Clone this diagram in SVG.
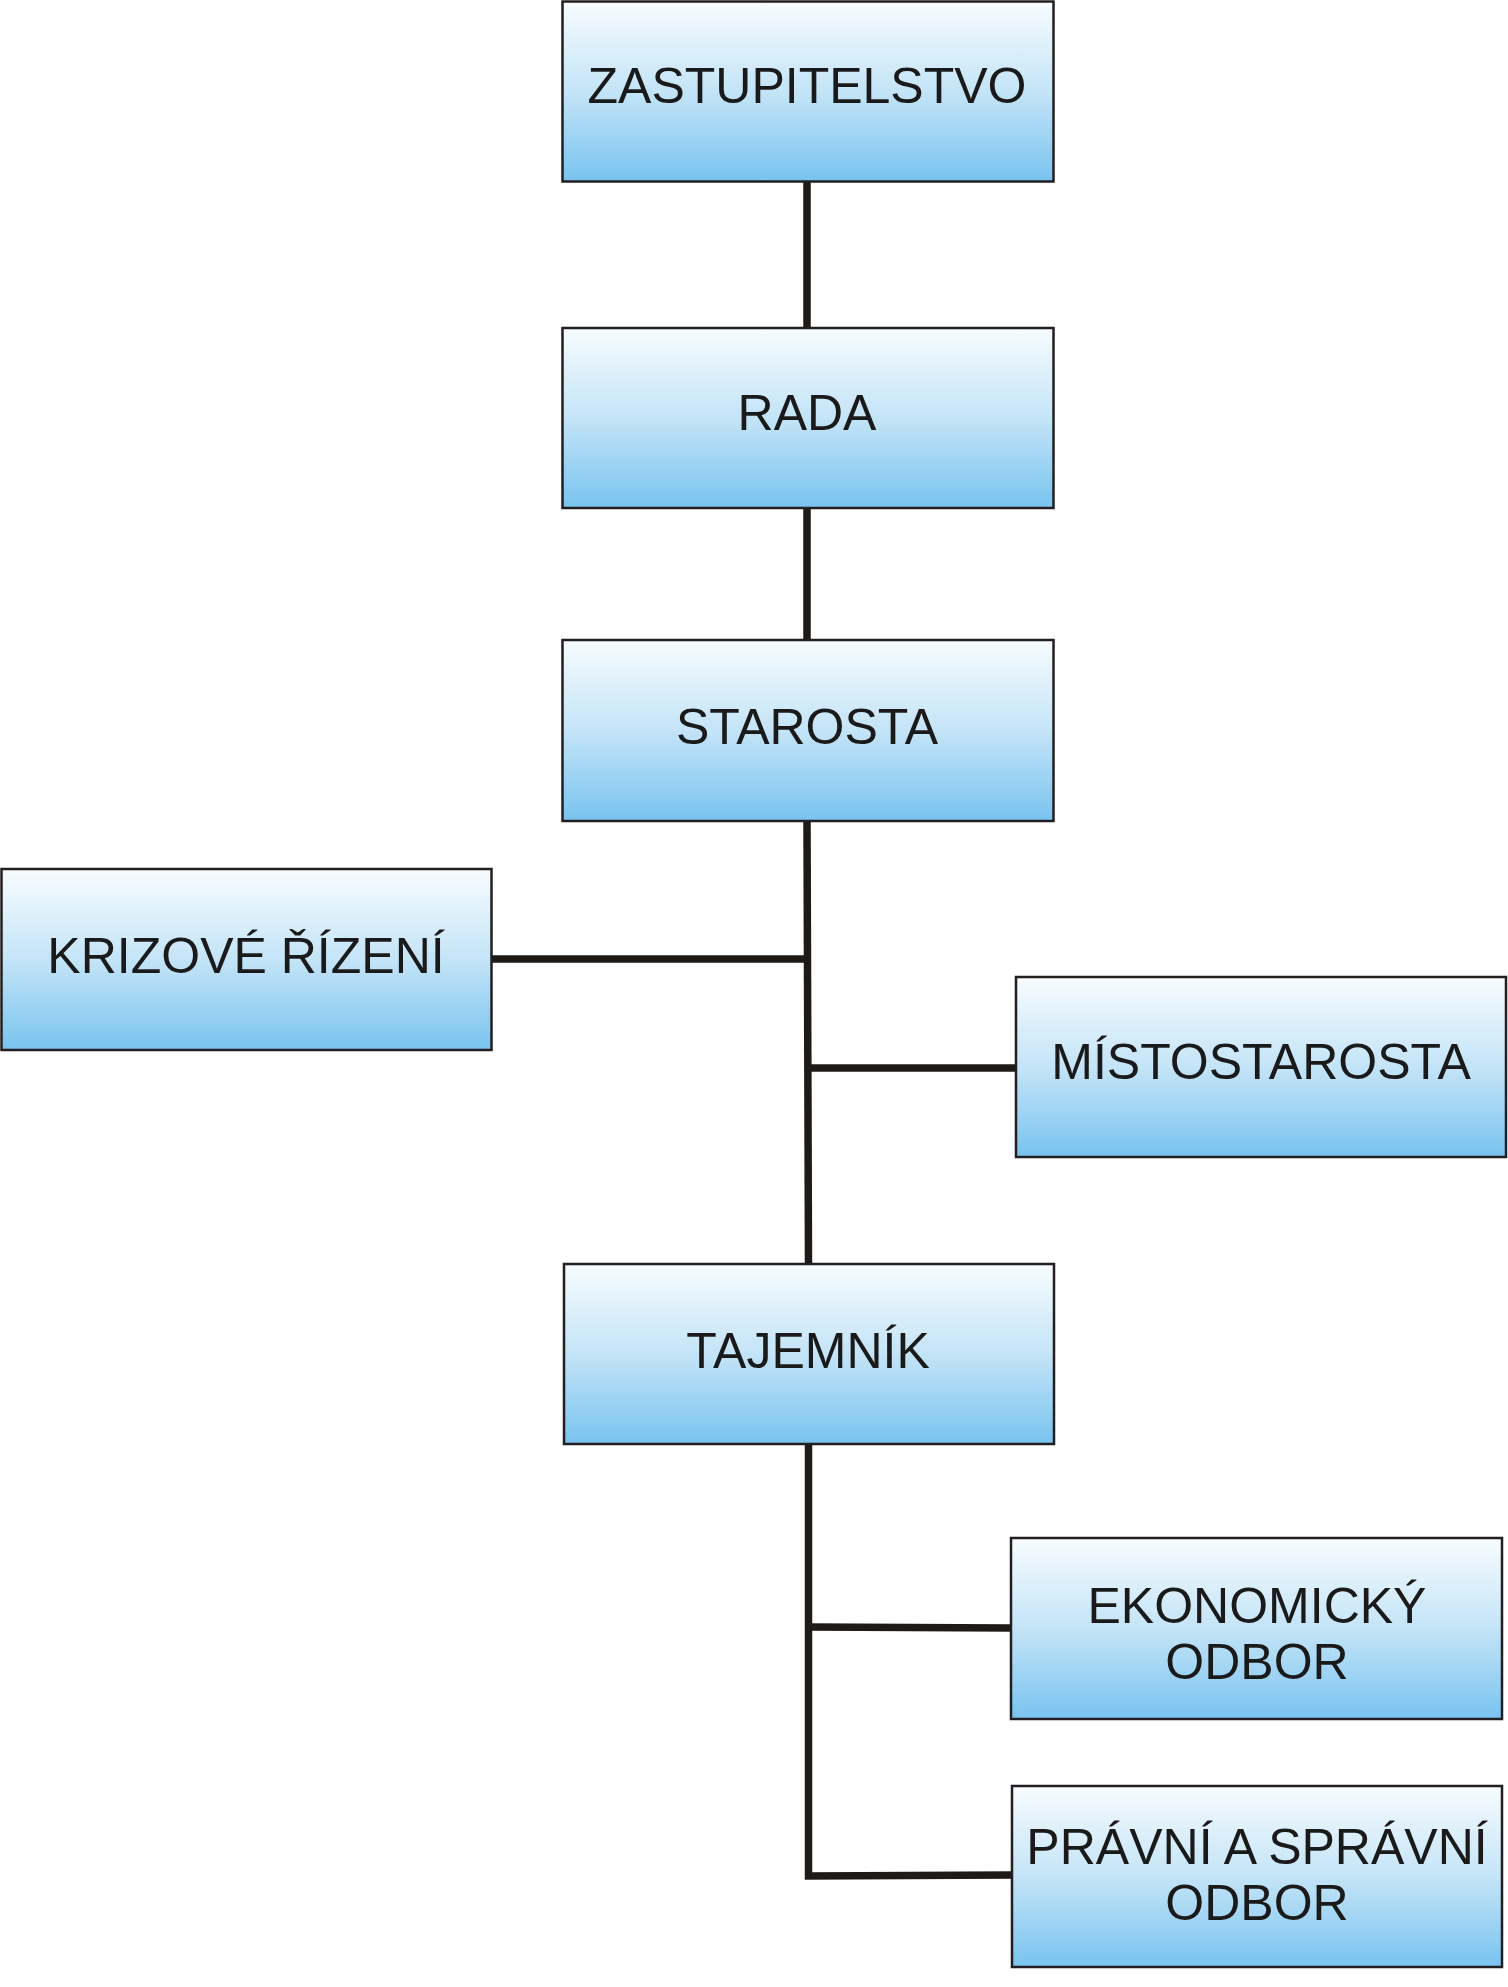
<svg xmlns="http://www.w3.org/2000/svg" width="1508" height="1987" viewBox="0 0 1508 1987">
<defs>
<linearGradient id="g" x1="0" y1="0" x2="0" y2="1">
<stop offset="0" stop-color="#f7fcfe"/>
<stop offset="0.5" stop-color="#c4e4f7"/>
<stop offset="1" stop-color="#78c3ef"/>
</linearGradient>
<style>
.box{fill:url(#g);stroke:#231f20;stroke-width:2.5}
.t{font-family:"Liberation Sans",Arial,sans-serif;font-size:50px;fill:#1a1a1a;text-anchor:middle}
.c{stroke:#1e1a17;stroke-width:7.5;fill:none;stroke-linecap:butt;stroke-linejoin:miter}
</style>
</defs>
<rect width="1508" height="1987" fill="#ffffff"/>
<g id="connectors">
<line class="c" x1="807" y1="181" x2="807" y2="328"/>
<line class="c" x1="807" y1="508" x2="807" y2="640"/>
<line class="c" x1="807" y1="821" x2="808.5" y2="1264"/>
<line class="c" x1="492" y1="959" x2="807" y2="959"/>
<line class="c" x1="808" y1="1068" x2="1016" y2="1068"/>
<polyline class="c" points="808.5,1444 808.5,1876 1012,1875"/>
<line class="c" x1="808.5" y1="1627" x2="1011" y2="1628"/>
</g>
<g id="zastupitelstvo">
<rect class="box" x="562.5" y="1.5" width="491" height="180"/>
<text class="t" x="807" y="103">ZASTUPITELSTVO</text>
</g>
<g id="rada">
<rect class="box" x="562.5" y="328" width="491" height="180"/>
<text class="t" x="807" y="430">RADA</text>
</g>
<g id="starosta">
<rect class="box" x="562.5" y="640" width="491" height="181"/>
<text class="t" x="807" y="744">STAROSTA</text>
</g>
<g id="krizove-rizeni">
<rect class="box" x="1.5" y="869" width="490" height="181"/>
<text class="t" x="246" y="973">KRIZOVÉ ŘÍZENÍ</text>
</g>
<g id="mistostarosta">
<rect class="box" x="1016" y="977" width="490" height="180"/>
<text class="t" x="1261" y="1079">MÍSTOSTAROSTA</text>
</g>
<g id="tajemnik">
<rect class="box" x="564" y="1264" width="490" height="180"/>
<text class="t" x="808" y="1368">TAJEMNÍK</text>
</g>
<g id="ekonomicky-odbor">
<rect class="box" x="1011" y="1538" width="491" height="181"/>
<text class="t" x="1257" y="1623">EKONOMICKÝ</text>
<text class="t" x="1257" y="1679">ODBOR</text>
</g>
<g id="pravni-a-spravni-odbor">
<rect class="box" x="1012" y="1786" width="490" height="181"/>
<text class="t" x="1257" y="1864">PRÁVNÍ A SPRÁVNÍ</text>
<text class="t" x="1257" y="1920">ODBOR</text>
</g>
</svg>
